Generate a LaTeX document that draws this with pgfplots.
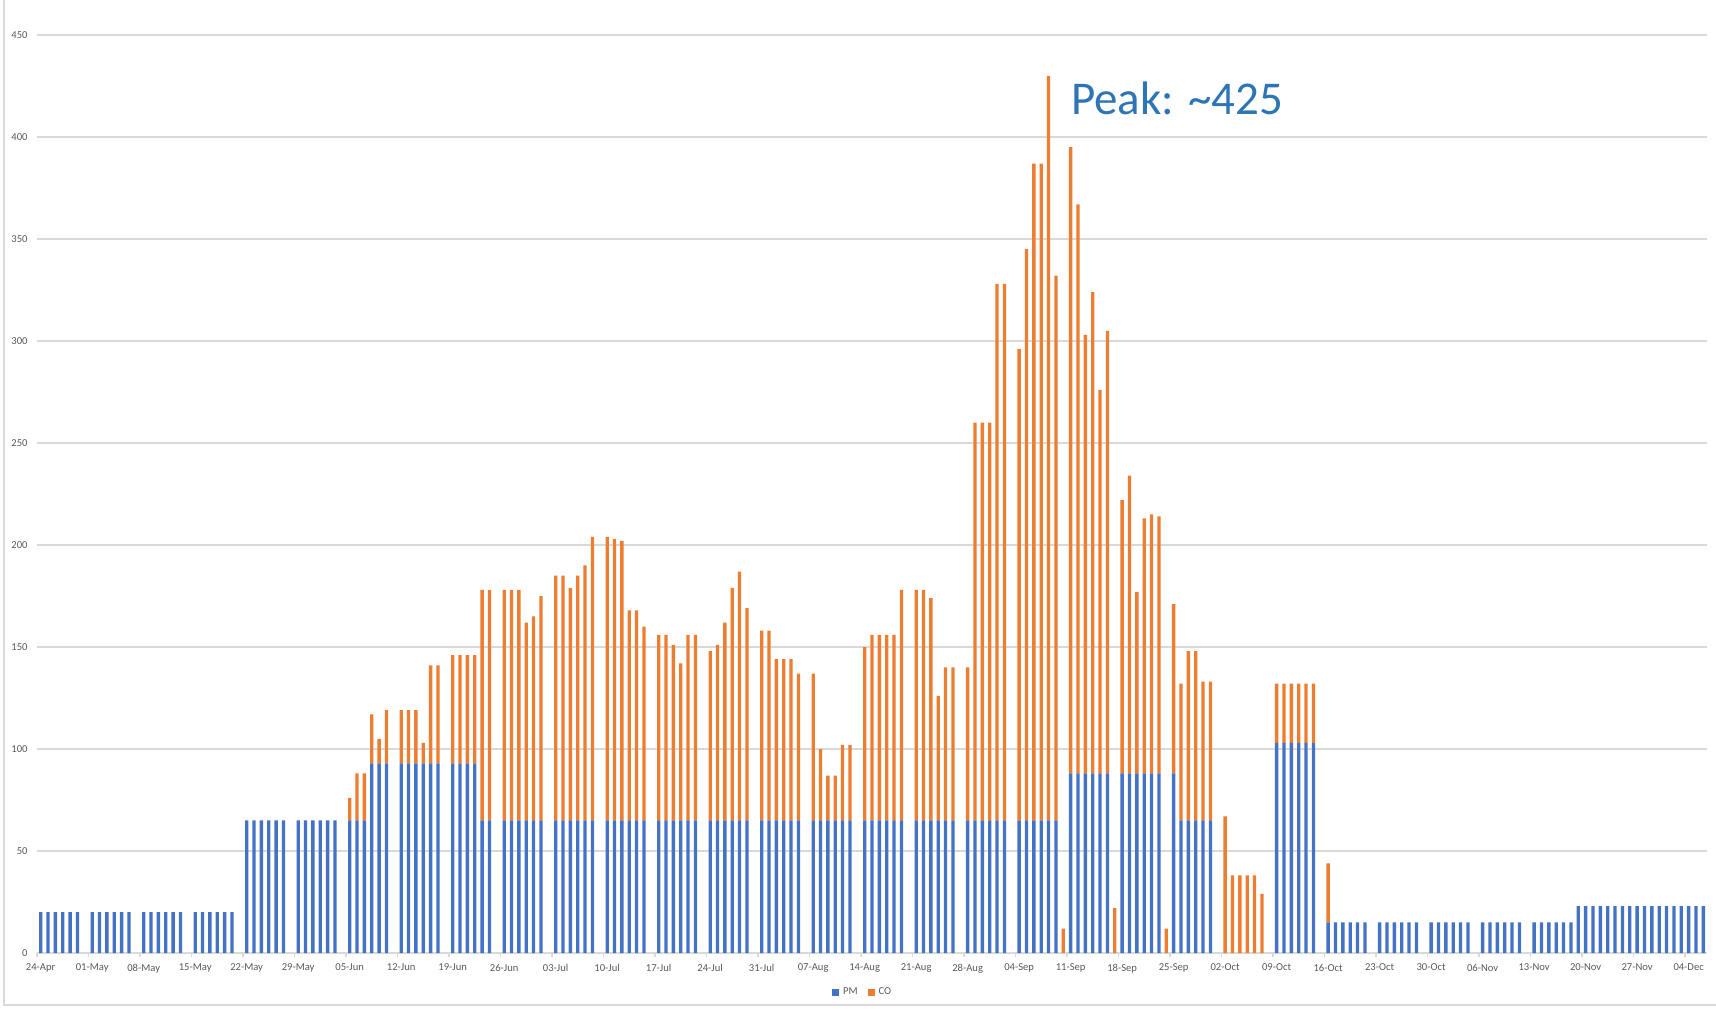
\documentclass[border=0pt]{standalone}
\usepackage{fontspec}
\setmainfont{Carlito}
\usepackage{pgfplots}
\usepackage{pgfplotstable}
\pgfplotsset{compat=1.18}
\definecolor{pmblue}{HTML}{4472C4}
\definecolor{coorange}{HTML}{ED7D31}
\definecolor{gridgray}{HTML}{D9D9D9}
\definecolor{labelgray}{HTML}{595959}
\definecolor{peakblue}{HTML}{2E75B6}

\pgfplotstableread{
x pm co
0 20 0
1 20 0
2 20 0
3 20 0
4 20 0
5 20 0
7 20 0
8 20 0
9 20 0
10 20 0
11 20 0
12 20 0
14 20 0
15 20 0
16 20 0
17 20 0
18 20 0
19 20 0
21 20 0
22 20 0
23 20 0
24 20 0
25 20 0
26 20 0
28 65 0
29 65 0
30 65 0
31 65 0
32 65 0
33 65 0
35 65 0
36 65 0
37 65 0
38 65 0
39 65 0
40 65 0
42 65 11
43 65 23
44 65 23
45 93 24
46 93 12
47 93 26
49 93 26
50 93 26
51 93 26
52 93 10
53 93 48
54 93 48
56 93 53
57 93 53
58 93 53
59 93 53
60 65 113
61 65 113
63 65 113
64 65 113
65 65 113
66 65 97
67 65 100
68 65 110
70 65 120
71 65 120
72 65 114
73 65 120
74 65 125
75 65 139
77 65 139
78 65 138
79 65 137
80 65 103
81 65 103
82 65 95
84 65 91
85 65 91
86 65 86
87 65 77
88 65 91
89 65 91
91 65 83
92 65 86
93 65 97
94 65 114
95 65 122
96 65 104
98 65 93
99 65 93
100 65 79
101 65 79
102 65 79
103 65 72
105 65 72
106 65 35
107 65 22
108 65 22
109 65 37
110 65 37
112 65 85
113 65 91
114 65 91
115 65 91
116 65 91
117 65 113
119 65 113
120 65 113
121 65 109
122 65 61
123 65 75
124 65 75
126 65 75
127 65 195
128 65 195
129 65 195
130 65 263
131 65 263
133 65 231
134 65 280
135 65 322
136 65 322
137 65 365
138 65 267
139 0 12
140 88 307
141 88 279
142 88 215
143 88 236
144 88 188
145 88 217
146 0 22
147 88 134
148 88 146
149 88 89
150 88 125
151 88 127
152 88 126
153 0 12
154 88 83
155 65 67
156 65 83
157 65 83
158 65 68
159 65 68
161 0 67
162 0 38
163 0 38
164 0 38
165 0 38
166 0 29
168 103 29
169 103 29
170 103 29
171 103 29
172 103 29
173 103 29
175 15 29
176 15 0
177 15 0
178 15 0
179 15 0
180 15 0
182 15 0
183 15 0
184 15 0
185 15 0
186 15 0
187 15 0
189 15 0
190 15 0
191 15 0
192 15 0
193 15 0
194 15 0
196 15 0
197 15 0
198 15 0
199 15 0
200 15 0
201 15 0
203 15 0
204 15 0
205 15 0
206 15 0
207 15 0
208 15 0
209 23 0
210 23 0
211 23 0
212 23 0
213 23 0
214 23 0
215 23 0
216 23 0
217 23 0
218 23 0
219 23 0
220 23 0
221 23 0
222 23 0
223 23 0
224 23 0
225 23 0
226 23 0
}\data

\begin{document}
\begin{tikzpicture}
\useasboundingbox (0,0) rectangle (858pt,504pt);
\draw[gridgray, line width=0.6pt] (2pt,504pt) -- (2pt,1.5pt) -- (858pt,1.5pt);
\begin{axis}[
  at={(18.5pt,27.5pt)}, anchor=south west,
  scale only axis, width=835pt, height=459pt,
  xmin=-0.5, xmax=226.5, ymin=0, ymax=450,
  ybar stacked, bar width=0.45,
  axis x line*=bottom, axis y line*=left,
  y axis line style={draw=none},
  x axis line style={gridgray, line width=0.6pt, -},
  ytick={0,50,...,450},
  ymajorgrids, grid style={gridgray, line width=0.6pt},
  xtick={0,7,...,224},
  xticklabels={24-Apr,01-May,08-May,15-May,22-May,29-May,05-Jun,12-Jun,19-Jun,26-Jun,03-Jul,10-Jul,17-Jul,24-Jul,31-Jul,07-Aug,14-Aug,21-Aug,28-Aug,04-Sep,11-Sep,18-Sep,25-Sep,02-Oct,09-Oct,16-Oct,23-Oct,30-Oct,06-Nov,13-Nov,20-Nov,27-Nov,04-Dec},
  minor xtick={-0.5,6.5,...,223.5},
  major tick length=0pt, minor tick length=2pt,
  tick align=outside,
  minor tick style={gridgray, line width=0.6pt},
  ticklabel style={font=\fontsize{5.3}{6.3}\selectfont, text=labelgray},
  /pgf/number format/assume math mode=true,
  yticklabel style={anchor=east, inner sep=0pt}, yticklabel shift=4.5pt,
  xticklabel style={anchor=north, inner sep=0pt}, xticklabel shift=5.3pt,
  clip=false,
  legend style={at={(0.495,-0.0428)}, anchor=center, draw=none, fill=none,
    legend columns=-1, font=\fontsize{5.3}{6.3}\selectfont, text=labelgray, inner sep=0pt,
    /tikz/every even column/.append style={column sep=3pt}},
]
\addplot[fill=pmblue, draw=none,
  legend image code/.code={\fill[pmblue] (0pt,-1.75pt) rectangle (3.5pt,1.75pt);}]
  table[x=x, y=pm]{\data};
\addplot[fill=coorange, draw=none,
  legend image code/.code={\fill[coorange] (0pt,-1.75pt) rectangle (3.5pt,1.75pt);}]
  table[x=x, y=co]{\data};
\legend{PM, CO}
\node[anchor=base west, text=peakblue, font=\fontsize{23.5}{27}\selectfont, inner sep=0pt] at (axis cs:140.0,411) {Peak: \textasciitilde425};
\end{axis}
\end{tikzpicture}
\end{document}
